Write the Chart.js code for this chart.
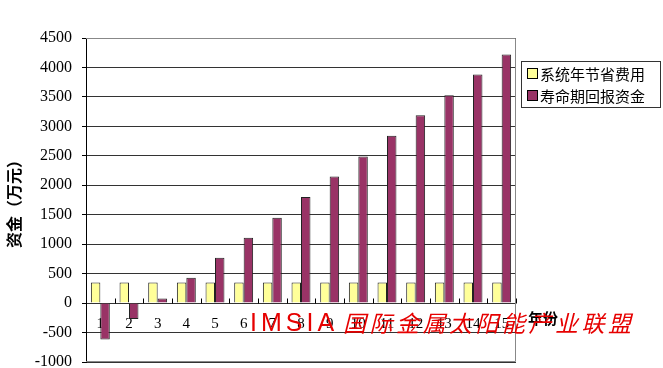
<!DOCTYPE html>
<html>
<head>
<meta charset="utf-8">
<script src="https://cdn.jsdelivr.net/npm/chart.js@4/dist/chart.umd.min.js"></script>
<style>
    body { margin: 0; background: #fff; }
    #box { width: 663px; height: 368px; }
</style>
</head>
<body>
<div id="box"><canvas id="grafico"></canvas></div>
<script>
let anos = ['1', '2', '3', '4', '5', '6', '7', '8', '9', '10', '11', '12', '13', '14', '15'];
let economiaAnual = [350, 350, 350, 350, 350, 350, 350, 350, 350, 350, 350, 350, 350, 350, 350];
let retornoVida = [-620, -270, 80, 430, 770, 1110, 1450, 1800, 2150, 2490, 2840, 3190, 3530, 3880, 4220];
let nomesSeries = ['系统年节省费用', '寿命期回报资金'];
let coresSeries = ['#FFFF99', '#993366'];

let fonteCJK = '"Noto Sans CJK SC", "Noto Sans", sans-serif';
let fonteNum = '"Liberation Serif", "DejaVu Serif", serif';

// borda do grafico, legenda, titulo do eixo x e marca d'agua
const extras = {
    id: 'extras',
    beforeDatasetsDraw(chart) {
        const ctx = chart.ctx;
        const a = chart.chartArea;
        ctx.save();
        ctx.strokeStyle = '#888';
        ctx.lineWidth = 1;
        ctx.beginPath();
        ctx.moveTo(a.left, a.top + 0.5);
        ctx.lineTo(a.right - 0.5, a.top + 0.5);
        ctx.lineTo(a.right - 0.5, a.bottom - 0.5);
        ctx.lineTo(a.left, a.bottom - 0.5);
        ctx.stroke();

        // marquinhas do eixo x (para cima, entre as categorias)
        const sx = chart.scales.x;
        const zero = Math.round(chart.scales.y.getPixelForValue(0)) + 0.5;
        const passo = (sx.right - sx.left) / anos.length;
        ctx.strokeStyle = '#000';
        ctx.beginPath();
        for (let i = 0; i <= anos.length; i++) {
            let x = Math.round(sx.left + i * passo) + 0.5;
            ctx.moveTo(x, zero);
            ctx.lineTo(x, zero - 5);
        }
        ctx.stroke();
        ctx.restore();
    },
    afterDraw(chart) {
        const ctx = chart.ctx;
        ctx.save();

        // legenda
        ctx.strokeStyle = '#333';
        ctx.lineWidth = 1;
        ctx.strokeRect(521.5, 61.5, 139, 46);
        ctx.font = '15px ' + fonteCJK;
        ctx.textBaseline = 'middle';
        ctx.textAlign = 'left';
        chart.data.datasets.forEach((ds, i) => {
            let y = 74 + i * 22;
            ctx.fillStyle = ds.backgroundColor;
            ctx.fillRect(527.5, y - 5.5, 10, 10);
            ctx.strokeStyle = '#000';
            ctx.strokeRect(527.5, y - 5.5, 10, 10);
            ctx.fillStyle = '#000';
            ctx.fillText(ds.label, 540, y);
        });

        // titulo do eixo x
        ctx.font = 'bold 15px ' + fonteCJK;
        ctx.fillText('年份', 528, 318);

        // marca d'agua
        ctx.fillStyle = '#e60000';
        ctx.font = '25px "Liberation Sans", sans-serif';
        ctx.letterSpacing = '4px';
        ctx.fillText('IMSIA', 250, 324);
        ctx.letterSpacing = '0px';
        ctx.font = 'italic 23px ' + fonteCJK;
        let chars = '国际金属太阳能产业联盟';
        for (let i = 0; i < chars.length; i++) {
            ctx.fillText(chars[i], 343 + i * 26.5, 323);
        }
        ctx.restore();
    }
};

new Chart(document.getElementById('grafico'), {
    type: 'bar',
    data: {
        labels: anos,
        datasets: [
            {
                label: nomesSeries[0],
                data: economiaAnual,
                backgroundColor: coresSeries[0],
                borderColor: '#222',
                borderWidth: 1
            },
            {
                label: nomesSeries[1],
                data: retornoVida,
                backgroundColor: coresSeries[1],
                borderColor: '#222',
                borderWidth: 1
            }
        ]
    },
    plugins: [extras],
    options: {
        responsive: true,
        maintainAspectRatio: false,
        animation: false,
        layout: { padding: { left: 0, right: 147, top: 38, bottom: 6 } },
        datasets: { bar: { categoryPercentage: 0.66, barPercentage: 1 } },
        plugins: {
            legend: { display: false },
            tooltip: { enabled: false }
        },
        scales: {
            x: {
                position: { y: 0 },
                afterFit(scale) { scale.height = 0; },
                grid: { display: false },
                border: { display: false },
                ticks: { color: '#000', padding: 4, font: { family: fonteNum, size: 15 } }
            },
            y: {
                min: -1000,
                max: 4500,
                afterFit(scale) {
                    scale.width = 86;
                    scale.paddingTop = 0;
                    scale.paddingBottom = 0;
                },
                ticks: {
                    stepSize: 500,
                    color: '#000',
                    padding: 10,
                    font: { family: fonteNum, size: 16 },
                    callback: v => String(v)
                },
                grid: { color: '#333', tickLength: 4, tickColor: '#000' },
                border: { color: '#000' },
                title: {
                    display: true,
                    text: '资金（万元）',
                    color: '#000',
                    padding: { top: 4, bottom: 0 },
                    font: { family: fonteCJK, size: 16, weight: 'bold' }
                }
            }
        }
    }
});
</script>
</body>
</html>
